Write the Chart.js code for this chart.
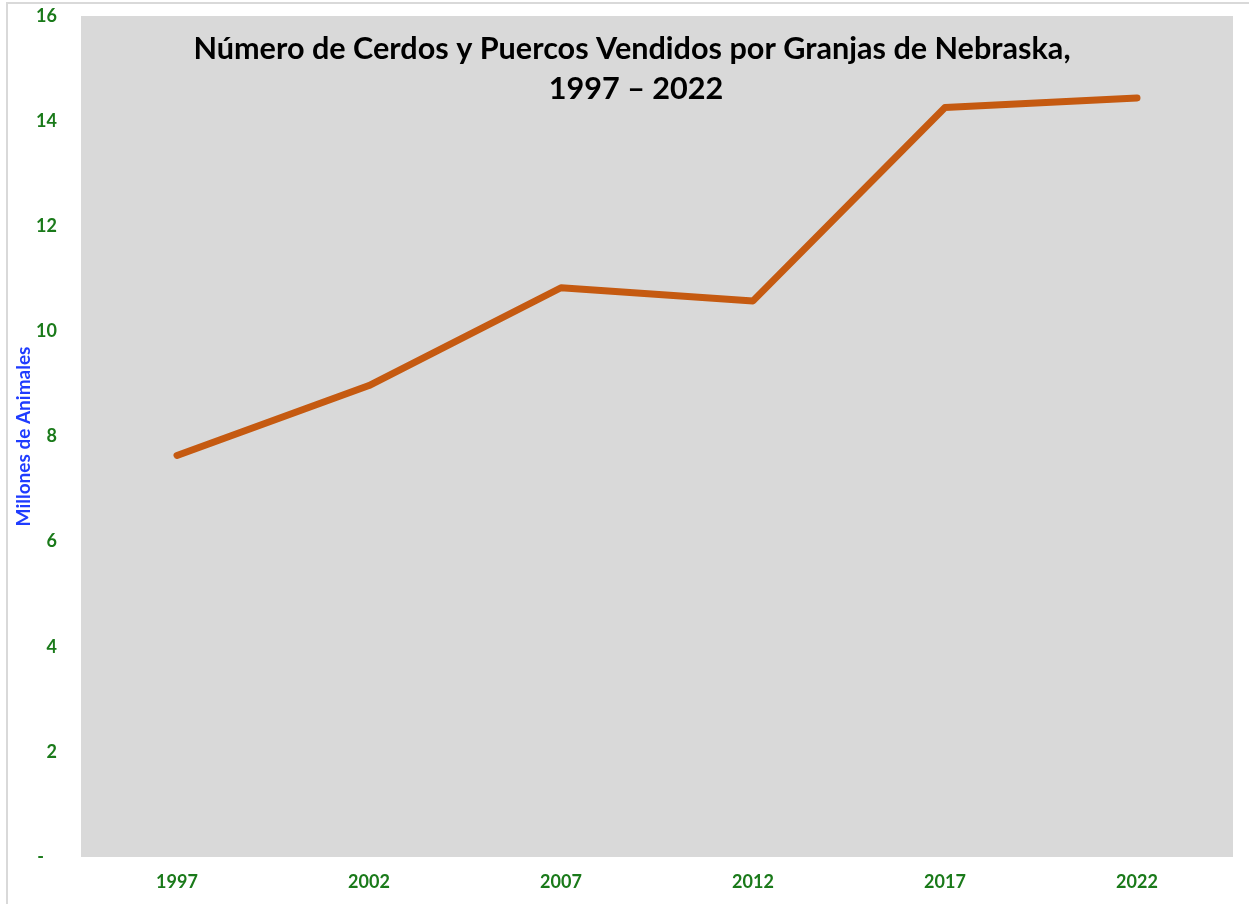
<!DOCTYPE html>
<html lang="es">
<head>
  <meta charset="UTF-8">
  <title>Cerdos y Puercos Vendidos - Nebraska</title>
  <script src="https://cdn.jsdelivr.net/npm/chart.js"></script>
  <style>
    html, body { margin: 0; padding: 0; background: #fff; }
    #wrap { width: 1249px; height: 904px; position: relative; }
  </style>
</head>
<body>
  <div id="wrap"><canvas id="grafico"></canvas></div>
  <script>
    // datos (millones de animales)
    const anios = ['1997', '2002', '2007', '2012', '2017', '2022'];
    const cerdos = [7.64, 8.97, 10.83, 10.58, 14.26, 14.44];
    const tituloLineas = ['Número de Cerdos y Puercos Vendidos por Granjas de Nebraska,', '1997 – 2022'];

    const verde = '#1a7a1a';
    const fuente = 'Lato, "Open Sans", sans-serif';

    // fondo gris del área de trazado + marco
    const fondo = {
      id: 'fondo',
      beforeDraw(chart) {
        const { ctx, chartArea: a } = chart;
        ctx.save();
        ctx.fillStyle = '#d9d9d9';
        ctx.fillRect(a.left, a.top, a.right - a.left, a.bottom - a.top);
        ctx.strokeStyle = '#d9d9d9';
        ctx.lineWidth = 2;
        ctx.strokeRect(7, 3, 1300, 1000);
        ctx.restore();
      }
    };

    // título dentro del área de trazado
    const titulo = {
      id: 'tituloDentro',
      afterDraw(chart) {
        const { ctx } = chart;
        ctx.save();
        ctx.fillStyle = '#000';
        ctx.font = 'bold 30.6px ' + fuente;
        ctx.textAlign = 'center';
        ctx.textBaseline = 'middle';
        ctx.fillText(tituloLineas[0], 632, 49);
        ctx.fillText(tituloLineas[1], 636, 89);
        ctx.restore();
      }
    };

    new Chart(document.getElementById('grafico'), {
      type: 'line',
      data: {
        labels: anios,
        datasets: [{
          data: cerdos,
          borderColor: '#c55a11',
          borderWidth: 7,
          borderCapStyle: 'round',
          borderJoinStyle: 'round',
          pointRadius: 0,
          tension: 0,
          fill: false
        }]
      },
      options: {
        responsive: true,
        maintainAspectRatio: false,
        animation: false,
        layout: { padding: { top: 16, right: 16, left: 0, bottom: 0 } },
        plugins: { legend: { display: false }, tooltip: { enabled: false } },
        scales: {
          x: {
            offset: true,
            grid: { display: false },
            border: { display: false },
            ticks: { color: verde, font: { family: fuente, size: 18, weight: 'bold' }, padding: 6 },
            afterFit(s) { s.height = 47; s.paddingLeft = 0; s.paddingRight = 0; }
          },
          y: {
            min: 0,
            max: 16,
            grid: { display: false },
            border: { display: false },
            ticks: {
              stepSize: 2,
              color: verde,
              font: { family: fuente, size: 18, weight: 'bold' },
              padding: 16,
              callback: v => v === 0 ? '-   ' : v
            },
            title: {
              display: true,
              text: 'Millones de Animales',
              color: '#1f3cff',
              font: { family: fuente, size: 19, weight: 'bold' },
              padding: { top: 12, bottom: 0 }
            },
            afterFit(s) { s.width = 81; s.paddingTop = 0; s.paddingBottom = 0; }
          }
        }
      },
      plugins: [fondo, titulo]
    });
  </script>
</body>
</html>
